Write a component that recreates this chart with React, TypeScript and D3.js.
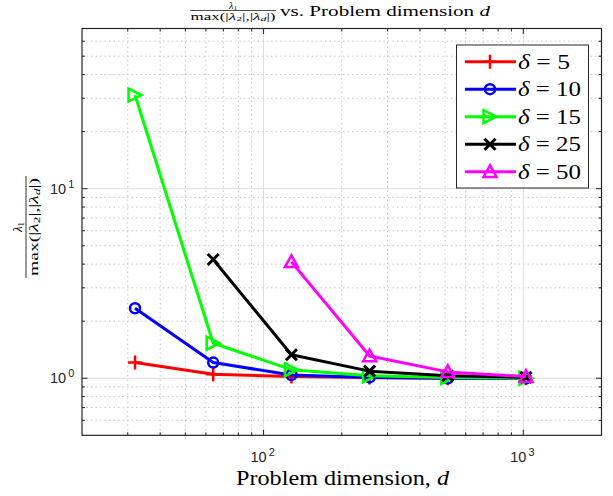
import React from "react";
import * as d3 from "d3";

const dims = [32, 64, 128, 256, 512, 1024];
const delta5 = [1.21, 1.05, 1.02, 1.01, 1.0, 1.0];
const delta10 = [2.34, 1.21, 1.04, 1.01, 1.0, 1.0];
const delta15 = [31.2, 1.53, 1.11, 1.03, 1.01, 1.0];
const delta25 = [null, 4.23, 1.33, 1.09, 1.03, 1.01];
const delta50 = [null, null, 4.11, 1.31, 1.08, 1.02];
const seriesNames = ["δ = 5", "δ = 10", "δ = 15", "δ = 25", "δ = 50"];
const seriesColors = ["#ff0000", "#0000ff", "#00ff00", "#000000", "#ff00ff"];
const seriesMarkers = ["plus", "circle", "triRight", "cross", "triUp"];
const xMajorTicks = [100, 1000];
const xTickExp = ["2", "3"];
const yMajorTicks = [1, 10];
const yTickExp = ["0", "1"];

const W = 613, H = 496;
const left = 82, right = 601.5, top = 28.5, bottom = 435.3;
const AX = "#262626";

function Marker({ type, x, y, color }: { type: string; x: number; y: number; color: string }) {
  const sw = 2.5;
  if (type === "plus") {
    const s = 7;
    return <path d={`M${x - s},${y}H${x + s}M${x},${y - s}V${y + s}`} stroke={color} strokeWidth={sw} fill="none" />;
  }
  if (type === "circle") {
    return <circle cx={x} cy={y} r={5} stroke={color} strokeWidth={sw} fill="none" />;
  }
  if (type === "cross") {
    const s = 5.5;
    return <path d={`M${x - s},${y - s}L${x + s},${y + s}M${x - s},${y + s}L${x + s},${y - s}`} stroke={color} strokeWidth={sw + 0.5} fill="none" />;
  }
  if (type === "triRight") {
    const s = 6.5;
    return <path d={`M${x - s},${y - s}L${x + s},${y}L${x - s},${y + s}Z`} stroke={color} strokeWidth={sw} fill="none" strokeLinejoin="miter" />;
  }
  const s = 6.5;
  return <path d={`M${x},${y - s}L${x + s},${y + s * 0.8}L${x - s},${y + s * 0.8}Z`} stroke={color} strokeWidth={sw} fill="none" />;
}

export default function App() {
  const x = d3.scaleLog().domain([20, 2000]).range([left, right]);
  const y = d3.scaleLog().domain([0.5, 70]).range([bottom, top]);
  const series = [delta5, delta10, delta15, delta25, delta50];

  const xMinor: number[] = [];
  [10, 100, 1000].forEach((dec) => {
    for (let k = 2; k <= 9; k++) {
      const v = dec * k;
      if (v > 20 && v < 2000 && v !== 100 && v !== 1000) xMinor.push(v);
    }
  });
  const yMinor: number[] = [];
  [0.1, 1, 10].forEach((dec) => {
    for (let k = 2; k <= 9; k++) {
      const v = dec * k;
      if (v > 0.5 && v < 70 && v !== 1 && v !== 10) yMinor.push(v);
    }
  });

  const line = d3
    .line<[number, number | null]>()
    .defined((d) => d[1] !== null)
    .x((d) => x(d[0]))
    .y((d) => y(d[1] as number));

  const serif = "'Liberation Serif', 'DejaVu Serif', serif";
  const sans = "'Liberation Sans', Arial, sans-serif";

  return (
    <svg width={W} height={H} style={{ display: "block", position: "absolute", left: 0, top: 0 }}>
      <rect width={W} height={H} fill="#fff" />
      {/* minor grid */}
      {xMinor.map((v) => (
        <line key={"xm" + v} x1={x(v)} x2={x(v)} y1={top} y2={bottom} stroke="#c8c8c8" strokeWidth={1} strokeDasharray="1.5,3" />
      ))}
      {yMinor.map((v) => (
        <line key={"ym" + v} x1={left} x2={right} y1={y(v)} y2={y(v)} stroke="#c8c8c8" strokeWidth={1} strokeDasharray="1.5,3" />
      ))}
      {/* major grid */}
      {xMajorTicks.map((v) => (
        <line key={"xg" + v} x1={x(v)} x2={x(v)} y1={top} y2={bottom} stroke="#dedede" strokeWidth={1} />
      ))}
      {yMajorTicks.map((v) => (
        <line key={"yg" + v} x1={left} x2={right} y1={y(v)} y2={y(v)} stroke="#dedede" strokeWidth={1} />
      ))}
      {/* ticks */}
      {xMinor.map((v) => (
        <g key={"xt" + v} stroke={AX} strokeWidth={1}>
          <line x1={x(v)} x2={x(v)} y1={bottom} y2={bottom - 3} />
          <line x1={x(v)} x2={x(v)} y1={top} y2={top + 3} />
        </g>
      ))}
      {xMajorTicks.map((v) => (
        <g key={"xT" + v} stroke={AX} strokeWidth={1}>
          <line x1={x(v)} x2={x(v)} y1={bottom} y2={bottom - 5.5} />
          <line x1={x(v)} x2={x(v)} y1={top} y2={top + 5.5} />
        </g>
      ))}
      {yMinor.map((v) => (
        <g key={"yt" + v} stroke={AX} strokeWidth={1}>
          <line x1={left} x2={left + 3} y1={y(v)} y2={y(v)} />
          <line x1={right} x2={right - 3} y1={y(v)} y2={y(v)} />
        </g>
      ))}
      {yMajorTicks.map((v) => (
        <g key={"yT" + v} stroke={AX} strokeWidth={1}>
          <line x1={left} x2={left + 5.5} y1={y(v)} y2={y(v)} />
          <line x1={right} x2={right - 5.5} y1={y(v)} y2={y(v)} />
        </g>
      ))}
      {/* axes box */}
      <rect x={left} y={top} width={right - left} height={bottom - top} fill="none" stroke={AX} strokeWidth={1.2} />
      {/* tick labels */}
      {xMajorTicks.map((v, i) => (
        <text key={"xl" + v} x={x(v) - 13} y={461.5} fontFamily={sans} fontSize={14.5} fill={AX}>
          10
          <tspan dx={2} dy={-6} fontSize={11}>{xTickExp[i]}</tspan>
        </text>
      ))}
      {yMajorTicks.map((v, i) => (
        <text key={"yl" + v} x={50} y={y(v) + 5} fontFamily={sans} fontSize={14.5} fill={AX}>
          10
          <tspan dx={2} dy={-6} fontSize={11}>{yTickExp[i]}</tspan>
        </text>
      ))}
      {/* series */}
      {series.map((s, i) => {
        const pts = dims.map((d, j) => [d, s[j]] as [number, number | null]);
        return (
          <g key={"s" + i}>
            <path d={line(pts) || ""} fill="none" stroke={seriesColors[i]} strokeWidth={3} strokeLinejoin="round" />
            {pts
              .filter((p) => p[1] !== null)
              .map((p, j) => (
                <Marker key={j} type={seriesMarkers[i]} x={x(p[0])} y={y(p[1] as number)} color={seriesColors[i]} />
              ))}
          </g>
        );
      })}
      {/* legend */}
      <rect x={456.5} y={45} width={132} height={143} fill="#fff" stroke={AX} strokeWidth={1} />
      {seriesNames.map((nm, i) => {
        const ly = 61.7 + i * 27.5;
        const num = nm.split("= ")[1];
        return (
          <g key={"lg" + i}>
            <line x1={465} x2={516} y1={ly} y2={ly} stroke={seriesColors[i]} strokeWidth={3} />
            <Marker type={seriesMarkers[i]} x={490} y={ly} color={seriesColors[i]} />
            <text x={518} y={ly + 7} fontFamily={serif} fontSize={21} fill="#000"
              textLength={num.length === 1 ? 52 : 63} lengthAdjust="spacingAndGlyphs">
              <tspan fontStyle="italic">δ</tspan>
              {" = " + num}
            </text>
          </g>
        );
      })}
      {/* title */}
      <text x={233} y={8.5} fontFamily={serif} fontSize={10} textAnchor="middle" fill="#000">
        <tspan fontStyle="italic">λ</tspan>
        <tspan fontSize={7} dy={1.5}>1</tspan>
      </text>
      <line x1={190} x2={276} y1={10.5} y2={10.5} stroke="#000" strokeWidth={0.7} />
      <text x={190.5} y={19.5} fontFamily={serif} fontSize={10} fill="#000" textLength={85} lengthAdjust="spacingAndGlyphs">
        max(|<tspan fontStyle="italic">λ</tspan><tspan fontSize={7} dy={1.5}>2</tspan><tspan dy={-1.5}>|,|</tspan><tspan fontStyle="italic">λ</tspan><tspan fontSize={7} dy={1.5} fontStyle="italic">d</tspan><tspan dy={-1.5}>|)</tspan>
      </text>
      <text x={280} y={16} fontFamily={serif} fontSize={15.5} fill="#000" textLength={210} lengthAdjust="spacingAndGlyphs">
        vs. Problem dimension <tspan fontStyle="italic">d</tspan>
      </text>
      {/* x label */}
      <text x={236} y={485} fontFamily={serif} fontSize={21} fill="#000" textLength={213} lengthAdjust="spacingAndGlyphs">
        Problem dimension, <tspan fontStyle="italic">d</tspan>
      </text>
      {/* y label */}
      <g transform="translate(26,227) rotate(-90)">
        <text x={0} y={-4} fontFamily={serif} fontSize={13} textAnchor="middle" fill="#000">
          <tspan fontStyle="italic">λ</tspan>
          <tspan fontSize={9} dy={2}>1</tspan>
        </text>
        <line x1={-51} x2={51} y1={0} y2={0} stroke="#000" strokeWidth={0.8} />
        <text x={-49} y={12} fontFamily={serif} fontSize={13} fill="#000" textLength={98} lengthAdjust="spacingAndGlyphs">
          max(|<tspan fontStyle="italic">λ</tspan><tspan fontSize={9} dy={2}>2</tspan><tspan dy={-2}>|,|</tspan><tspan fontStyle="italic">λ</tspan><tspan fontSize={9} dy={2} fontStyle="italic">d</tspan><tspan dy={-2}>|)</tspan>
        </text>
      </g>
    </svg>
  );
}
